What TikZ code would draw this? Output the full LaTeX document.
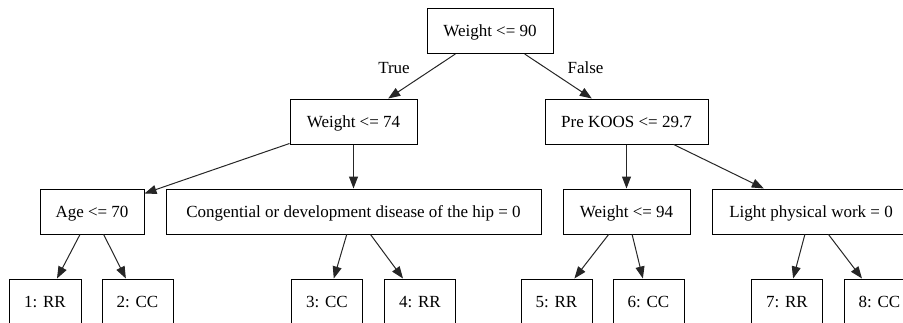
\documentclass[tikz,border=0pt]{standalone}
\usepackage{fontspec}
\setmainfont{Liberation Serif}
\usetikzlibrary{arrows.meta}
\begin{document}
\begin{tikzpicture}[x=1pt,y=-1pt,
  box/.style={draw=black,line width=1pt,rectangle,minimum height=45pt,
    font=\fontsize{17}{20}\selectfont,text height=11.5pt,text depth=0pt,inner sep=2pt},
  leaf/.style={box,minimum width=71pt},
  edge/.style={draw=black!85,line width=1pt,-{Triangle[length=12pt,width=9pt]}},
  elabel/.style={font=\fontsize{17}{20}\selectfont,text height=11.5pt,text depth=0pt,inner sep=0pt}]
\useasboundingbox (0,0) rectangle (903,322);
\clip (0,0) rectangle (903,322);
% internal nodes
\node[box,minimum width=126pt] (root) at (490,31) {Weight <= 90};
\node[box,minimum width=127pt] (w74) at (353.5,121.5) {Weight <= 74};
\node[box,minimum width=163pt] (koos) at (626.5,121.5) {Pre KOOS <= 29.7};
\node[box,minimum width=104pt] (age) at (92,211.5) {Age <= 70};
\node[box,minimum width=375pt] (cong) at (353.5,211.5) {Congential or development disease of the hip = 0};
\node[box,minimum width=127pt] (w94) at (626.5,211.5) {Weight <= 94};
\node[box,minimum width=198pt] (light) at (811,211.5) {Light physical work = 0};
% leaves
\node[leaf,minimum width=72pt] (l1) at (45,301.5) {1: RR};
\node[leaf] (l2) at (137.5,301.5) {2: CC};
\node[leaf] (l3) at (327,301.5) {3: CC};
\node[leaf] (l4) at (420,301.5) {4: RR};
\node[leaf] (l5) at (556.5,301.5) {5: RR};
\node[leaf] (l6) at (648.5,301.5) {6: CC};
\node[leaf] (l7) at (787,301.5) {7: RR};
\node[leaf] (l8) at (879.5,301.5) {8: CC};
% edge labels
\node[elabel] (ltrue) at (394,68) {True};
\node[elabel] (lfalse) at (585.5,68) {False};
% edges
\draw[edge] (root) -- (w74);
\draw[edge] (root) -- (koos);
\draw[edge] (w74) -- (age);
\draw[edge] (w74) -- (cong);
\draw[edge] (koos) -- (w94);
\draw[edge] (koos) -- (light);
\draw[edge] (age) -- (l1);
\draw[edge] (age) -- (l2);
\draw[edge] (cong) -- (l3);
\draw[edge] (cong) -- (l4);
\draw[edge] (w94) -- (l5);
\draw[edge] (w94) -- (l6);
\draw[edge] (light) -- (l7);
\draw[edge] (light) -- (l8);
\end{tikzpicture}
\end{document}
